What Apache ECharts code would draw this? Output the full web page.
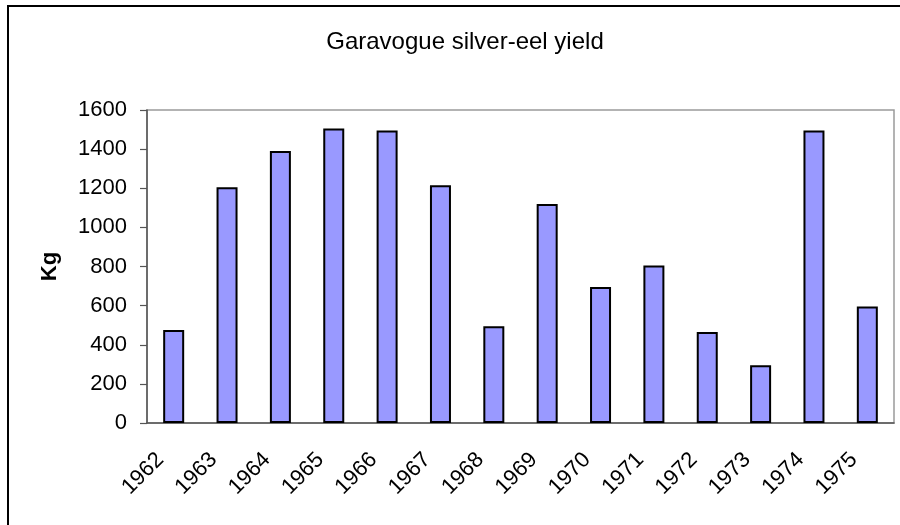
<!DOCTYPE html>
<html>
<head>
<meta charset="utf-8">
<script src="https://cdn.jsdelivr.net/npm/echarts@6/dist/echarts.min.js"></script>
<style>
  html, body { margin: 0; padding: 0; background: #fff; }
  #chart { width: 900px; height: 525px; }
</style>
</head>
<body>
<div id="chart"></div>
<script>
// Annual silver-eel catch on the Garavogue, in kilograms
const years = ['1962', '1963', '1964', '1965', '1966', '1967', '1968',
               '1969', '1970', '1971', '1972', '1973', '1974', '1975'];
const yieldKg = [475, 1205, 1390, 1505, 1495, 1215, 495,
                 1120, 695, 805, 465, 295, 1495, 595];
const yTicks = { min: 0, max: 1600, step: 200 };

const FONT = '"Liberation Sans", Arial, sans-serif';

const chart = echarts.init(document.getElementById('chart'));
chart.setOption({
  animation: false,
  backgroundColor: '#fff',
  textStyle: { fontFamily: FONT, color: '#000' },
  title: {
    text: 'Garavogue silver-eel yield',
    left: 460,
    top: 25,
    textAlign: 'center',
    textStyle: { fontFamily: FONT, fontSize: 24, fontWeight: 'normal', color: '#000' }
  },
  graphic: [{
    type: 'rect',
    shape: { x: 8, y: 6, width: 940, height: 580 },
    style: { fill: 'none', stroke: '#000', lineWidth: 2 },
    silent: true
  }],
  grid: {
    left: 147, top: 110, right: 6, bottom: 102,
    show: true, borderColor: '#9a9a9a', borderWidth: 1.5,
    backgroundColor: 'transparent'
  },
  xAxis: {
    type: 'category',
    data: years,
    axisLine: { lineStyle: { color: '#555', width: 1.5 } },
    axisTick: { length: 7, lineStyle: { color: '#555', width: 1.2 } },
    axisLabel: {
      rotate: 45,
      margin: 20,
      padding: [0, 19, 0, 0],
      fontSize: 22,
      fontFamily: FONT,
      color: '#000'
    },
    splitLine: { show: false }
  },
  yAxis: {
    type: 'value',
    min: yTicks.min,
    max: yTicks.max,
    interval: yTicks.step,
    name: 'Kg',
    nameLocation: 'middle',
    nameGap: 86,
    nameTextStyle: { fontFamily: FONT, fontSize: 22, fontWeight: 'bold', color: '#000' },
    axisLine: { show: true, lineStyle: { color: '#555', width: 1.5 } },
    axisTick: { show: true, length: 7, lineStyle: { color: '#555', width: 1.2 } },
    axisLabel: {
      margin: 20,
      fontSize: 22,
      fontFamily: FONT,
      color: '#000',
      formatter: (v) => String(v)
    },
    splitLine: { show: false }
  },
  series: [{
    type: 'bar',
    data: yieldKg,
    barWidth: 21,
    itemStyle: { color: '#9999ff', borderColor: '#000', borderWidth: 2 }
  }]
});
</script>
</body>
</html>
